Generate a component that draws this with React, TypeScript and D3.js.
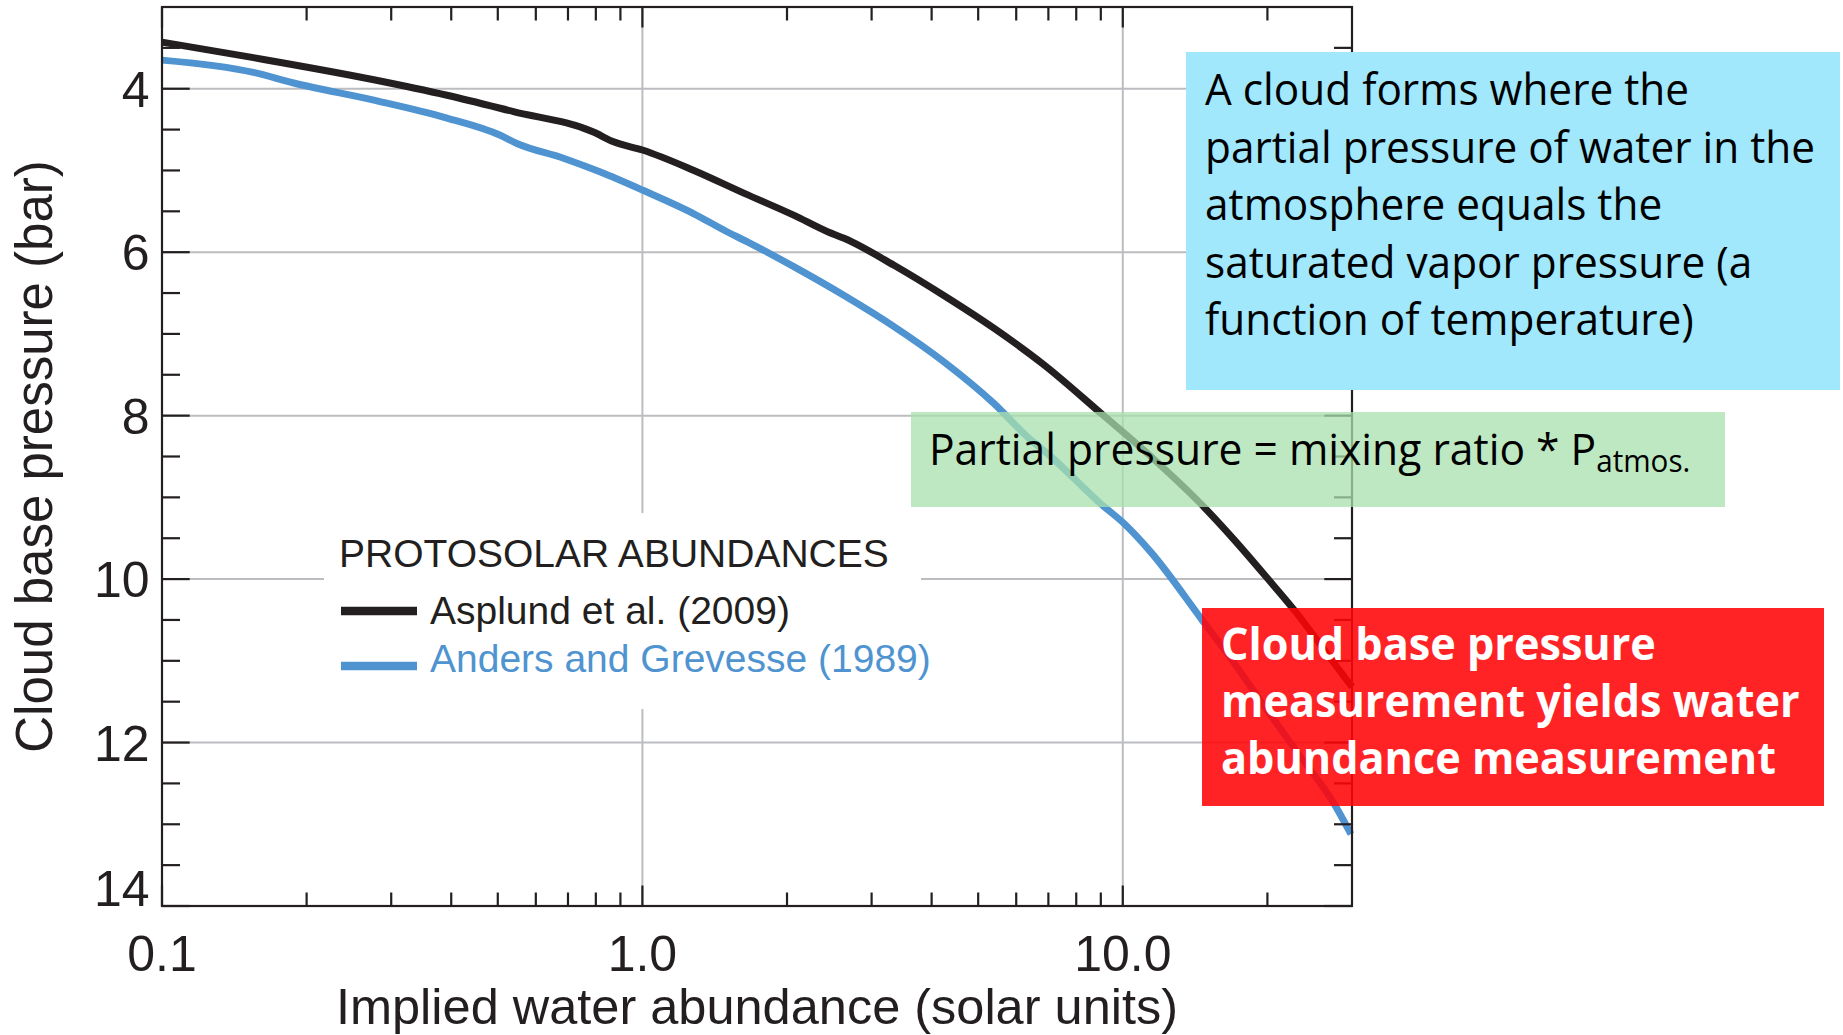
import React from 'react';
import * as d3 from 'd3';

// Implied water abundance (solar units) vs. cloud base pressure (bar)
const asplundAbundance = [0.1, 0.155, 0.276, 0.392, 0.539, 0.791, 0.871, 1.0, 1.28, 1.63, 2.07, 2.43, 2.63, 3.34, 4.24, 5.39, 6.86, 9.0, 11.44, 14.54, 17.06, 20.0, 22.75, 27.54, 30.0];
const asplundPressure = [3.43, 3.62, 3.89, 4.08, 4.28, 4.53, 4.65, 4.75, 5.0, 5.28, 5.55, 5.75, 5.83, 6.16, 6.53, 6.93, 7.38, 7.97, 8.5, 9.08, 9.52, 9.99, 10.38, 11.03, 11.32];

const andersAbundance = [0.1, 0.155, 0.188, 0.276, 0.392, 0.506, 0.548, 0.685, 0.818, 1.0, 1.28, 1.5, 1.65, 2.07, 2.63, 3.34, 4.24, 5.39, 6.33, 7.08, 9.0, 10.06, 11.44, 14.54, 17.06, 20.0, 23.49, 27.54, 29.85];
const andersPressure = [3.65, 3.8, 3.93, 4.14, 4.36, 4.57, 4.67, 4.85, 5.02, 5.24, 5.53, 5.75, 5.87, 6.18, 6.53, 6.91, 7.34, 7.85, 8.26, 8.5, 9.08, 9.32, 9.67, 10.48, 11.03, 11.61, 12.18, 12.75, 13.12];

const xMajorTicks = [0.1, 1, 10];
const xTickLabels = ['0.1', '1.0', '10.0'];
const yMajorTicks = [4, 6, 8, 10, 12, 14];
const yTickLabels = ['4', '6', '8', '10', '12', '14'];

const legendTitle = 'PROTOSOLAR ABUNDANCES';
const seriesNames = ['Asplund et al. (2009)', 'Anders and Grevesse (1989)'];

const noteLines = [
  'A cloud forms where the',
  'partial pressure of water in the',
  'atmosphere equals the',
  'saturated vapor pressure (a',
  'function of temperature)',
];
const formulaText = 'Partial pressure = mixing ratio * P';
const formulaSub = 'atmos.';
const resultLines = ['Cloud base pressure', 'measurement yields water', 'abundance measurement'];

const W = 1843;
const H = 1035;
const PLOT = { left: 162, right: 1352, top: 7, bottom: 906 };

const INK = '#231f20';
const BLUE = '#4f94d0';
const GRID = '#bcbdc0';
const AXIS_FONT = '"Liberation Sans", Arial, Helvetica, sans-serif';
const NOTE_FONT = '"Open Sans", "Noto Sans", sans-serif';

export default function App() {
  const x = d3.scaleLog().domain([0.1, 30]).range([PLOT.left, PLOT.right]);
  const y = d3.scaleLinear().domain([3, 14]).range([PLOT.top, PLOT.bottom]);

  const line = d3
    .line<[number, number]>()
    .x((d) => x(d[0]))
    .y((d) => y(d[1]))
    .curve(d3.curveMonotoneX);

  const asplund = asplundAbundance.map((a, i) => [a, asplundPressure[i]] as [number, number]);
  const anders = andersAbundance.map((a, i) => [a, andersPressure[i]] as [number, number]);

  // log minor ticks (2..9 per decade) and half-bar minor ticks
  const xMinor: number[] = [];
  [0.1, 1, 10].forEach((dec) => {
    for (let k = 2; k <= 9; k++) {
      const v = dec * k;
      if (v < 30 - 1e-9) xMinor.push(v);
    }
  });
  const yMinor: number[] = [];
  for (let v = 3.5; v < 14; v += 0.5) {
    if (!yMajorTicks.includes(v)) yMinor.push(v);
  }

  const xMajLen = 20.5;
  const xMinLen = 13.5;
  const yMajLen = 27.7;
  const yMinLen = 18;

  const noteScale = 0.95;
  const boldScale = 0.96;

  return (
    <svg
      width={W}
      height={H}
      viewBox={`0 0 ${W} ${H}`}
      style={{ position: 'absolute', left: 0, top: 0, display: 'block', background: '#fff' }}
    >
      <rect x={0} y={0} width={W} height={H} fill="#fff" />

      {/* grid */}
      <g stroke={GRID} strokeWidth={2}>
        {yMajorTicks
          .filter((v) => v < 14)
          .map((v) => (
            <line key={`gy${v}`} x1={PLOT.left} x2={PLOT.right} y1={y(v)} y2={y(v)} />
          ))}
        {xMajorTicks
          .filter((v) => v > 0.1)
          .map((v) => (
            <line key={`gx${v}`} x1={x(v)} x2={x(v)} y1={PLOT.top} y2={PLOT.bottom} />
          ))}
      </g>

      {/* legend background */}
      <rect x={324} y={513} width={597} height={196} fill="#fff" />

      {/* curves */}
      <path d={line(anders) || ''} fill="none" stroke={BLUE} strokeWidth={7} strokeLinejoin="round" />
      <path d={line(asplund) || ''} fill="none" stroke={INK} strokeWidth={7} strokeLinejoin="round" />

      {/* axes frame and ticks */}
      <g stroke={INK} strokeWidth={2.2} fill="none">
        <rect x={PLOT.left} y={PLOT.top} width={PLOT.right - PLOT.left} height={PLOT.bottom - PLOT.top} />
        {xMajorTicks.map((v) => (
          <g key={`xt${v}`}>
            <line x1={x(v)} x2={x(v)} y1={PLOT.bottom} y2={PLOT.bottom - xMajLen} />
            <line x1={x(v)} x2={x(v)} y1={PLOT.top} y2={PLOT.top + xMajLen} />
          </g>
        ))}
        {xMinor.map((v) => (
          <g key={`xm${v}`}>
            <line x1={x(v)} x2={x(v)} y1={PLOT.bottom} y2={PLOT.bottom - xMinLen} />
            <line x1={x(v)} x2={x(v)} y1={PLOT.top} y2={PLOT.top + xMinLen} />
          </g>
        ))}
        {yMajorTicks.map((v) => (
          <g key={`yt${v}`}>
            <line x1={PLOT.left} x2={PLOT.left + yMajLen} y1={y(v)} y2={y(v)} />
            <line x1={PLOT.right} x2={PLOT.right - yMajLen} y1={y(v)} y2={y(v)} />
          </g>
        ))}
        {yMinor.map((v) => (
          <g key={`ym${v}`}>
            <line x1={PLOT.left} x2={PLOT.left + yMinLen} y1={y(v)} y2={y(v)} />
            <line x1={PLOT.right} x2={PLOT.right - yMinLen} y1={y(v)} y2={y(v)} />
          </g>
        ))}
      </g>

      {/* tick labels */}
      <g fontFamily={AXIS_FONT} fontSize={50} fill={INK}>
        {xMajorTicks.map((v, i) => (
          <text key={`xl${v}`} x={x(v)} y={971} textAnchor="middle">
            {xTickLabels[i]}
          </text>
        ))}
        {yMajorTicks.map((v, i) => (
          <text key={`yl${v}`} x={149.5} y={Math.min(y(v) + 18, PLOT.bottom)} textAnchor="end">
            {yTickLabels[i]}
          </text>
        ))}
      </g>

      {/* axis titles */}
      <text
        x={(PLOT.left + PLOT.right) / 2}
        y={1024}
        textAnchor="middle"
        fontFamily={AXIS_FONT}
        fontSize={50.5}
        fill={INK}
      >
        Implied water abundance (solar units)
      </text>
      <text
        transform={`translate(52, ${(PLOT.top + PLOT.bottom) / 2}) rotate(-90)`}
        textAnchor="middle"
        fontFamily={AXIS_FONT}
        fontSize={51}
        fill={INK}
      >
        Cloud base pressure (bar)
      </text>

      {/* legend */}
      <g fontFamily={AXIS_FONT} fontSize={39}>
        <text x={339} y={567} fill={INK}>
          {legendTitle}
        </text>
        <line x1={341} x2={417} y1={611} y2={611} stroke={INK} strokeWidth={8.3} />
        <text x={430} y={624.3} fill={INK}>
          {seriesNames[0]}
        </text>
        <line x1={341} x2={417} y1={666} y2={666} stroke={BLUE} strokeWidth={8.3} />
        <text x={430} y={671.7} fill={BLUE}>
          {seriesNames[1]}
        </text>
      </g>

      {/* explanatory note */}
      <rect x={1186} y={52} width={654} height={338} fill="#a1e8fd" />
      <g transform={`translate(1205, 0) scale(${noteScale}, 1)`} fontFamily={NOTE_FONT} fontSize={44.6} fill="#000">
        {noteLines.map((t, i) => (
          <text key={t} x={0} y={105.5 + i * 57.4}>
            {t}
          </text>
        ))}
      </g>

      {/* formula band */}
      <rect x={911} y={412} width={814} height={95} fill="rgb(168,224,172)" fillOpacity={0.75} />
      <g transform={`translate(929, 0) scale(0.955, 1)`} fontFamily={NOTE_FONT} fill="#000">
        <text x={0} y={465} fontSize={44.6}>
          {formulaText}
          <tspan fontSize={31} dy={7}>
            {formulaSub}
          </tspan>
        </text>
      </g>

      {/* result box */}
      <rect x={1202} y={608} width={622} height={198} fill="#ff0508" fillOpacity={0.88} />
      <g transform={`translate(1221, 0) scale(${boldScale}, 1)`} fontFamily={NOTE_FONT} fontWeight={700} fontSize={45} fill="#fff">
        {resultLines.map((t, i) => (
          <text key={t} x={0} y={660 + i * 57.2}>
            {t}
          </text>
        ))}
      </g>
    </svg>
  );
}
